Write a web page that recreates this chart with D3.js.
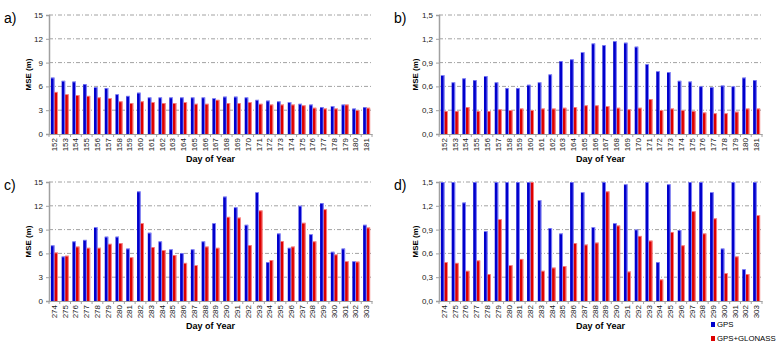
<!DOCTYPE html>
<html>
<head>
<meta charset="utf-8">
<script src="https://cdn.jsdelivr.net/npm/d3@7"></script>
<style>
  body { margin: 0; background: #fff; }
  svg { font-family: "Liberation Sans", Arial, sans-serif; }
</style>
</head>
<body>
<svg id="chart" width="779" height="350"></svg>
<script>
// days
var daysJun = d3.range(152, 182)
var daysOct = d3.range(274, 304)

// panel a) - June, position MSE
var gpsA = [7.1,6.7,6.6,6.3,5.9,5.8,5.0,4.8,5.2,4.6,4.6,4.6,4.6,4.6,4.6,4.5,4.7,4.7,4.6,4.3,4.2,4.1,4.0,3.8,3.7,3.4,3.5,3.7,3.2,3.4]
var gloA = [5.3,5.0,4.9,4.8,4.6,4.5,4.1,3.9,4.1,4.0,3.9,3.9,4.0,3.8,3.8,4.3,3.9,3.9,4.0,3.8,3.7,3.7,3.7,3.6,3.3,3.2,3.2,3.7,3.0,3.3]

// panel b)
var gpsB = [0.74,0.65,0.70,0.68,0.73,0.65,0.58,0.58,0.62,0.65,0.75,0.92,0.94,1.03,1.14,1.12,1.17,1.15,1.10,0.88,0.79,0.78,0.67,0.66,0.60,0.59,0.61,0.60,0.71,0.68]
var gloB = [0.29,0.29,0.34,0.29,0.29,0.31,0.30,0.32,0.30,0.32,0.32,0.33,0.34,0.36,0.36,0.35,0.33,0.31,0.33,0.44,0.30,0.32,0.30,0.29,0.27,0.26,0.26,0.28,0.32,0.32]

// panel c) - October
var gpsC = [7.0,5.6,7.5,7.7,9.3,8.1,8.1,6.6,13.8,8.6,7.5,6.5,6.05,6.5,7.5,9.8,13.15,11.8,9.6,13.7,4.9,8.5,6.7,12.0,8.4,12.35,6.2,6.6,5.0,9.6]
var gloC = [6.1,5.7,6.85,6.7,6.7,7.2,7.3,5.5,9.8,6.8,6.4,5.8,4.8,4.5,6.85,6.7,10.6,10.5,7.05,11.4,5.15,7.55,6.85,9.85,7.5,11.55,5.85,5.0,4.95,9.25]

// panel d)
var gpsD = [1.5,1.5,1.24,1.5,0.88,1.5,1.5,1.5,1.5,1.27,0.92,0.85,1.5,1.37,0.93,1.5,0.98,1.47,0.90,1.5,0.49,1.47,0.895,1.5,1.5,1.37,0.66,1.5,0.40,1.5]
var gloD = [0.49,0.48,0.38,0.51,0.34,1.03,0.45,0.53,1.5,0.38,0.42,0.44,0.73,0.71,0.735,1.38,0.95,0.37,0.82,0.76,0.27,0.87,0.70,1.13,0.85,1.04,0.35,0.56,0.34,1.08]

var ticksBig = [0, 3, 6, 9, 12, 15]
var ticksSmall = [0, 0.3, 0.6, 0.9, 1.2, 1.5]

var seriesNames = ["GPS", "GPS+GLONASS"]
var colors = {GPS: "#0000cc", "GPS+GLONASS": "#dd0000"}
var edges = {GPS: "#9a9aff", "GPS+GLONASS": "#ff9a9a"}

var svg = d3.select("#chart")

function drawPanel(left, top, days, gps, glo, ticks, fmt, label) {
    var width = 323, height = 119
    var g = svg.append("g").attr("transform", "translate(" + left + "," + top + ")")

    var x = d3.scaleBand().domain(days).range([0, width]).padding(0)
    var sub = d3.scaleBand().domain(seriesNames).range([0, x.bandwidth()])
        .paddingInner(0).paddingOuter(0.55)
    var y = d3.scaleLinear().domain([0, ticks[ticks.length - 1]]).range([height, 0])

    // grid
    g.selectAll(".grid").data(ticks.slice(1)).enter().append("line")
        .attr("x1", 0).attr("x2", width)
        .attr("y1", d => y(d)).attr("y2", d => y(d))
        .attr("stroke", "#8a8a8a").attr("stroke-width", 0.8)
        .attr("stroke-dasharray", "4,2,1,2")

    var rows = days.map((d, i) => ({day: d, vals: [
        {name: "GPS", v: gps[i]}, {name: "GPS+GLONASS", v: glo[i]}]}))

    var grp = g.selectAll(".day").data(rows).enter().append("g")
        .attr("transform", d => "translate(" + x(d.day) + ",0)")

    grp.selectAll("rect.bar").data(d => d.vals).enter().append("rect")
        .attr("x", d => sub(d.name))
        .attr("y", d => y(d.v))
        .attr("width", sub.bandwidth())
        .attr("height", d => height - y(d.v))
        .attr("fill", d => colors[d.name])
    grp.selectAll("rect.edge").data(d => d.vals).enter().append("rect")
        .attr("x", d => sub(d.name) + sub.bandwidth() - 0.8)
        .attr("y", d => y(d.v))
        .attr("width", 0.8)
        .attr("height", d => height - y(d.v))
        .attr("fill", d => edges[d.name])
    grp.selectAll("rect.topedge").data(d => d.vals).enter().append("rect")
        .attr("x", d => sub(d.name))
        .attr("y", d => y(d.v))
        .attr("width", sub.bandwidth())
        .attr("height", 0.7)
        .attr("fill", d => edges[d.name])

    // y axis
    var yAxis = d3.axisLeft(y).tickValues(ticks).tickFormat(fmt).tickSize(3).tickPadding(3)
    var ya = g.append("g").call(yAxis)
    ya.select(".domain").attr("stroke", "#a0a0a0").attr("stroke-width", 1.5)
    ya.selectAll(".tick line").attr("stroke", "#a0a0a0")
    ya.selectAll("text").attr("font-size", 8).attr("fill", "#222")

    // x axis
    var xAxis = d3.axisBottom(x).tickSize(0).tickPadding(0)
    var xa = g.append("g").attr("transform", "translate(0," + height + ")").call(xAxis)
    xa.select(".domain").attr("stroke", "#a0a0a0").attr("stroke-width", 1.2)
    xa.selectAll("text")
        .attr("font-size", 8).attr("fill", "#222")
        .attr("transform", "rotate(-90)")
        .attr("text-anchor", "end")
        .attr("dy", "0.32em")
        .attr("x", -4).attr("y", 0)
    g.selectAll(".xtick").data(d3.range(days.length + 1)).enter().append("line")
        .attr("x1", i => i * x.step()).attr("x2", i => i * x.step())
        .attr("y1", height).attr("y2", height + 3)
        .attr("stroke", "#a0a0a0")

    g.append("text")
        .attr("x", width / 2).attr("y", height + 28)
        .attr("text-anchor", "middle")
        .attr("font-size", 9).attr("font-weight", "bold")
        .text("Day of Year")

    g.append("text")
        .attr("transform", "translate(" + (fmt === fmtBig ? -18 : -21) + "," + (height / 2) + ") rotate(-90)")
        .attr("text-anchor", "middle")
        .attr("font-size", 8).attr("font-weight", "bold")
        .text("MSE (m)")

    svg.append("text")
        .attr("x", left - 45).attr("y", top + 8)
        .attr("font-size", 14)
        .text(label)
}

var fmtBig = d3.format("d")
var fmtSmall = d => d3.format(".1f")(d).replace(".", ",")

drawPanel(49, 15, daysJun, gpsA, gloA, ticksBig, fmtBig, "a)")
drawPanel(439, 15, daysJun, gpsB, gloB, ticksSmall, fmtSmall, "b)")
drawPanel(49, 182, daysOct, gpsC, gloC, ticksBig, fmtBig, "c)")
drawPanel(439, 182, daysOct, gpsD, gloD, ticksSmall, fmtSmall, "d)")

// legend
var leg = svg.append("g").attr("transform", "translate(711,322)")
leg.selectAll("rect").data(seriesNames).enter().append("rect")
    .attr("x", 0).attr("y", (d, i) => i * 14)
    .attr("width", 4).attr("height", 5)
    .attr("fill", d => colors[d])
leg.selectAll("text").data(seriesNames).enter().append("text")
    .attr("x", 6).attr("y", (d, i) => i * 14 + 5)
    .attr("font-size", 7.8)
    .text(d => d)
</script>
</body>
</html>
